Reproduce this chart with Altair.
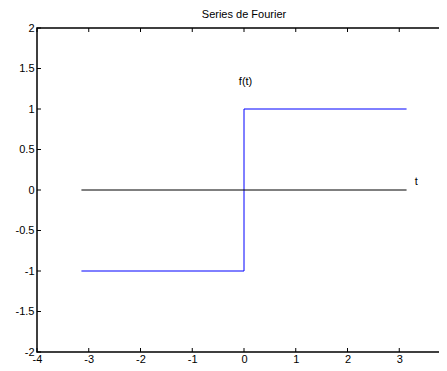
import altair as alt
import pandas as pd

# data
t_vals = [-3.1416, 0.0, 0.0, 3.1416]
f_vals = [-1, -1, 1, 1]
step_order = [0, 1, 2, 3]
zero_t = [-3.1416, 3.1416]
zero_f = [0, 0]
x_ticks = [-4, -3, -2, -1, 0, 1, 2, 3, 4]
y_ticks = [-2, -1.5, -1, -0.5, 0, 0.5, 1, 1.5, 2]
label_text = ["f(t)", "t"]
label_x = [-0.1, 3.3]
label_y = [1.33, 0.1]

W, H = 414, 324
FONT = "Liberation Sans"

df_step = pd.DataFrame({"t": t_vals, "f": f_vals, "o": step_order})
df_zero = pd.DataFrame({"t": zero_t, "f": zero_f})
df_xt = pd.DataFrame({"t": x_ticks})
df_yt = pd.DataFrame({"f": y_ticks})
df_lab = pd.DataFrame({"t": label_x, "f": label_y, "s": label_text})

xs = alt.Scale(domain=[-4, 4], nice=False, zero=False)
ys = alt.Scale(domain=[-2, 2], nice=False, zero=False)
ax_x = alt.Axis(values=x_ticks, tickSize=0, domain=False, grid=False, labelPadding=1,
                title=None, labelFlush=False,
                labelExpr="datum.value == 4 ? '' : '' + datum.value")
ax_y = alt.Axis(values=y_ticks, tickSize=0, domain=False, grid=False, labelPadding=3,
                title=None, labelFlush=False, labelExpr="'' + datum.value")
X = alt.X("t:Q", scale=xs, axis=ax_x)
Y = alt.Y("f:Q", scale=ys, axis=ax_y)

step = alt.Chart(df_step).mark_line(color="#0000ff", strokeWidth=1).encode(
    x=X, y=Y, order="o:Q")

zero = alt.Chart(df_zero).mark_line(color="#000000", strokeWidth=1).encode(x=X, y=Y)

labels = alt.Chart(df_lab).mark_text(align="left", baseline="middle", font=FONT, fontSize=11,
                                     color="black").encode(x=X, y=Y, text="s:N")

TL = 4
bottom_ticks = alt.Chart(df_xt).mark_rule(color="black", strokeWidth=1).encode(
    x=X, y=alt.value(H), y2=alt.value(H - TL))
top_ticks = alt.Chart(df_xt).mark_rule(color="black", strokeWidth=1).encode(
    x=X, y=alt.value(0), y2=alt.value(TL))
left_ticks = alt.Chart(df_yt).mark_rule(color="black", strokeWidth=1).encode(
    y=Y, x=alt.value(0), x2=alt.value(TL))
right_ticks = alt.Chart(df_yt).mark_rule(color="black", strokeWidth=1).encode(
    y=Y, x=alt.value(W), x2=alt.value(W - TL))

chart = alt.layer(step, zero, labels, bottom_ticks, top_ticks, left_ticks, right_ticks).properties(
    width=W, height=H,
    title=alt.Title("Series de Fourier", font=FONT, fontSize=11, fontWeight="normal",
                    color="black", offset=5, dy=3),
    autosize="none",
    padding={"left": 29, "top": 20, "right": -12, "bottom": 11},
).configure_view(stroke="black", strokeWidth=1.5).configure_axis(
    labelFont=FONT, labelFontSize=11, labelColor="black"
)

chart.save("out.html", embed_options={"renderer": "svg", "actions": False})
